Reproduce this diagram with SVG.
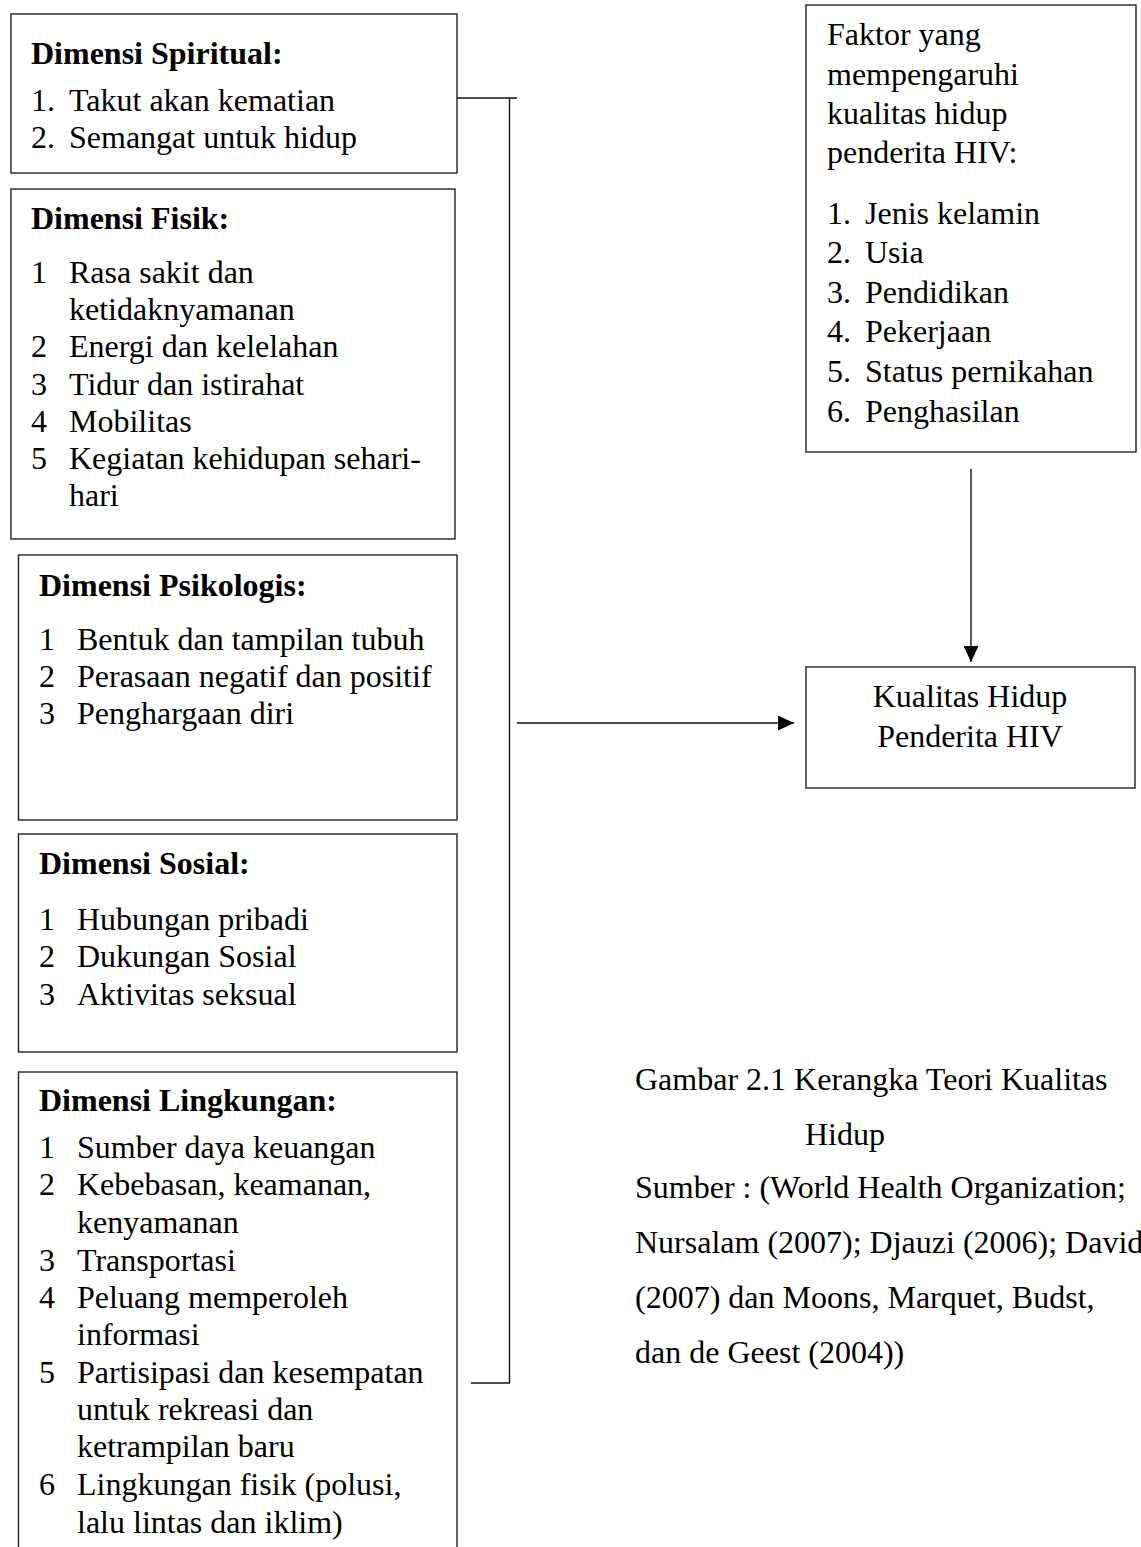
<svg xmlns="http://www.w3.org/2000/svg" width="1141" height="1547" viewBox="0 0 1141 1547">
<defs>
<style>
text{font-family:"Liberation Serif","Times New Roman",serif;font-size:32px;fill:#000}
.b{font-weight:bold}
.box{fill:#fff;stroke:#222;stroke-width:1.4}
.ln{fill:none;stroke:#111;stroke-width:1.4}
.c{text-anchor:middle}
</style>
<marker id="ah" viewBox="0 0 16 15" refX="16" refY="7.5" markerWidth="16" markerHeight="15" markerUnits="userSpaceOnUse" orient="auto">
<path d="M0,0 L16,7.5 L0,15 Z" fill="#000"/>
</marker>
</defs>
<rect width="1141" height="1547" fill="#fff"/>

<g id="connectors">
<polyline class="ln" points="457,98 517,98"/>
<line class="ln" x1="509.5" y1="98" x2="509.5" y2="1383"/>
<line class="ln" x1="471" y1="1383" x2="510" y2="1383"/>
<line class="ln" x1="517" y1="723" x2="794" y2="723" marker-end="url(#ah)"/>
<line class="ln" x1="971" y1="469" x2="971" y2="662" marker-end="url(#ah)"/>
</g>

<g id="spiritual">
<rect class="box" x="11" y="14" width="446" height="159"/>
<text class="b" x="31" y="64">Dimensi Spiritual:</text>
<text x="31" y="111">1.</text><text x="69" y="111">Takut akan kematian</text>
<text x="31" y="148">2.</text><text x="69" y="148">Semangat untuk hidup</text>
</g>

<g id="fisik">
<rect class="box" x="11" y="189" width="444" height="350"/>
<text class="b" x="31" y="229">Dimensi Fisik:</text>
<text x="31" y="283">1</text><text x="69" y="283">Rasa sakit dan</text>
<text x="69" y="320">ketidaknyamanan</text>
<text x="31" y="357">2</text><text x="69" y="357">Energi dan kelelahan</text>
<text x="31" y="395">3</text><text x="69" y="395">Tidur dan istirahat</text>
<text x="31" y="432">4</text><text x="69" y="432">Mobilitas</text>
<text x="31" y="469">5</text><text x="69" y="469">Kegiatan kehidupan sehari-</text>
<text x="69" y="506">hari</text>
</g>

<g id="psikologis">
<rect class="box" x="18.5" y="555" width="438.5" height="265"/>
<text class="b" x="39" y="596">Dimensi Psikologis:</text>
<text x="39" y="650">1</text><text x="77" y="650">Bentuk dan tampilan tubuh</text>
<text x="39" y="687">2</text><text x="77" y="687">Perasaan negatif dan positif</text>
<text x="39" y="724">3</text><text x="77" y="724">Penghargaan diri</text>
</g>

<g id="sosial">
<rect class="box" x="18.5" y="834" width="438.5" height="218"/>
<text class="b" x="39" y="874">Dimensi Sosial:</text>
<text x="39" y="930">1</text><text x="77" y="930">Hubungan pribadi</text>
<text x="39" y="967">2</text><text x="77" y="967">Dukungan Sosial</text>
<text x="39" y="1005">3</text><text x="77" y="1005">Aktivitas seksual</text>
</g>

<g id="lingkungan">
<rect class="box" x="18.5" y="1072" width="438.5" height="500"/>
<text class="b" x="39" y="1111">Dimensi Lingkungan:</text>
<text x="39" y="1158">1</text><text x="77" y="1158">Sumber daya keuangan</text>
<text x="39" y="1195">2</text><text x="77" y="1195">Kebebasan, keamanan,</text>
<text x="77" y="1233">kenyamanan</text>
<text x="39" y="1271">3</text><text x="77" y="1271">Transportasi</text>
<text x="39" y="1308">4</text><text x="77" y="1308">Peluang memperoleh</text>
<text x="77" y="1345">informasi</text>
<text x="39" y="1383">5</text><text x="77" y="1383">Partisipasi dan kesempatan</text>
<text x="77" y="1420">untuk rekreasi dan</text>
<text x="77" y="1457">ketrampilan baru</text>
<text x="39" y="1495">6</text><text x="77" y="1495">Lingkungan fisik (polusi,</text>
<text x="77" y="1533">lalu lintas dan iklim)</text>
</g>

<g id="faktor">
<rect class="box" x="806" y="5" width="330" height="447"/>
<text x="827" y="45">Faktor yang</text>
<text x="827" y="85">mempengaruhi</text>
<text x="827" y="124">kualitas hidup</text>
<text x="827" y="163">penderita HIV:</text>
<text x="827" y="224">1.</text><text x="865" y="224">Jenis kelamin</text>
<text x="827" y="263">2.</text><text x="865" y="263">Usia</text>
<text x="827" y="303">3.</text><text x="865" y="303">Pendidikan</text>
<text x="827" y="342">4.</text><text x="865" y="342">Pekerjaan</text>
<text x="827" y="382">5.</text><text x="865" y="382">Status pernikahan</text>
<text x="827" y="422">6.</text><text x="865" y="422">Penghasilan</text>
</g>

<g id="kualitas">
<rect class="box" x="806" y="667" width="329" height="121"/>
<text class="c" x="970" y="707">Kualitas Hidup</text>
<text class="c" x="970" y="747">Penderita HIV</text>
</g>

<g id="caption">
<text x="635" y="1090">Gambar 2.1 Kerangka Teori Kualitas</text>
<text x="805" y="1145">Hidup</text>
<text x="635" y="1198">Sumber : (World Health Organization;</text>
<text x="635" y="1253">Nursalam (2007); Djauzi (2006); David</text>
<text x="635" y="1308">(2007) dan Moons, Marquet, Budst,</text>
<text x="635" y="1363">dan de Geest (2004))</text>
</g>
</svg>
